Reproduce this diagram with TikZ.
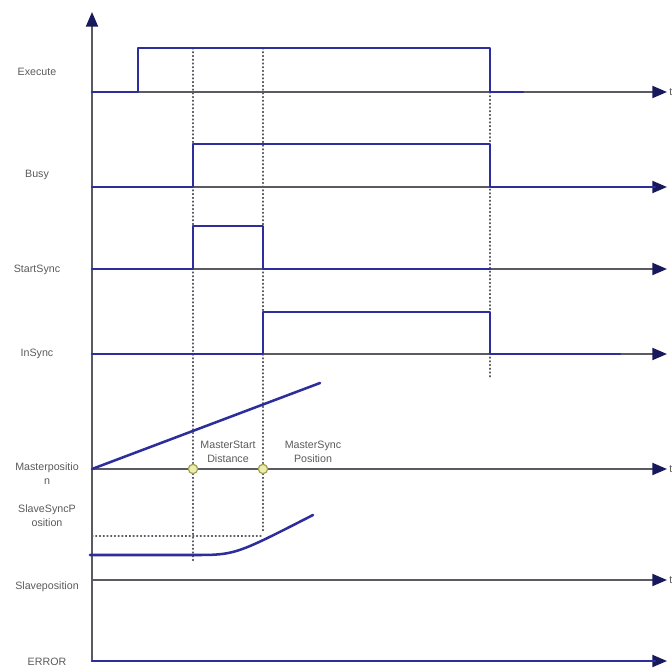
\documentclass[tikz,border=0pt]{standalone}
\usepackage{fontspec}
\setmainfont{Liberation Sans}
\usetikzlibrary{arrows.meta}

\definecolor{sigblue}{HTML}{2D2D9C}
\definecolor{axisgray}{HTML}{5A5A64}
\definecolor{tipnavy}{HTML}{18185C}
\definecolor{labelgray}{HTML}{5A5A5A}
\definecolor{dotfill}{HTML}{EEEDB0}
\definecolor{dotedge}{HTML}{9EA24A}

\tikzset{
  taxis/.style={axisgray, line width=1.4pt, -{Triangle[length=11pt, width=9pt, color=tipnavy]}},
  signal/.style={sigblue, line width=1.9pt},
  guide/.style={axisgray, dotted, line width=0.8pt},
  siglabel/.style={labelgray, font=\fontsize{8}{10.5}\selectfont, align=center, inner sep=0pt},
  syncdot/.style={circle, draw=dotedge, fill=dotfill, line width=0.9pt, minimum size=7pt, inner sep=0pt}
}

\begin{document}
\begin{tikzpicture}[x=0.75pt, y=-0.75pt, line join=round, line cap=round]
    \useasboundingbox (0,0) rectangle (672,671);
    % vertical axis
    \coordinate (org) at (92,661);
    \coordinate (top) at (92,12);
    \draw[taxis] (org) -- (top);
    % time axes
    \foreach \name/\y in {exe/92, busy/187, start/269, insync/354, master/469, slave/580, err/661} {
      \coordinate (\name0) at (92,\y);
      \coordinate (\name1) at (667,\y);
      \draw[taxis] (\name0) -- (\name1);
    }
    % guide lines
    \draw[guide] (193,48) -- (193,563);
    \draw[guide] (263,48) -- (263,533);
    \draw[guide] (490,92) -- (490,377);
    \draw[guide] (92,536) -- (263,536);
    % signals
    \draw[signal] (exe0) -- (138,92) -- (138,48) -- (490,48) -- (490,92) -- (523,92);
    \draw[signal] (busy0) -- (193,187) -- (193,144) -- (490,144) -- (490,187) -- (655,187);
    \draw[signal] (start0) -- (193,269) -- (193,226) -- (263,226) -- (263,269) -- (490,269);
    \draw[signal] (insync0) -- (263,354) -- (263,312) -- (490,312) -- (490,354) -- (620,354);
    \draw[signal] (master0) -- (320,383);
    \draw[signal] (90,555) -- (193,555) .. controls (235,555) .. (313,515);
    \draw[signal] (err0) -- (655,661);
    % sync points
    \node[syncdot] (msd) at (193,469) {};
    \node[syncdot] (msp) at (263,469) {};
    % labels
    \node[siglabel] (lexe) at (37,72) {Execute};
    \node[siglabel] (lbusy) at (37,175) {Busy};
    \node[siglabel] (lstart) at (37,270) {StartSync};
    \node[siglabel] (linsync) at (37,354) {InSync};
    \node[siglabel] (lmaster) at (47,474) {Masterpositio\\n};
    \node[siglabel] (lsyncpos) at (47,516) {SlaveSyncP\\osition};
    \node[siglabel] (lslave) at (47,587) {Slaveposition};
    \node[siglabel] (lerr) at (47,662) {ERROR};
    \node[siglabel] (ldist) at (228,452) {MasterStart\\Distance};
    \node[siglabel] (lpos) at (313,452) {MasterSync\\Position};
    \foreach \y in {92, 469, 580}
      \node[siglabel, anchor=west] at (669,\y) {t};
  \end{tikzpicture}
\end{document}
